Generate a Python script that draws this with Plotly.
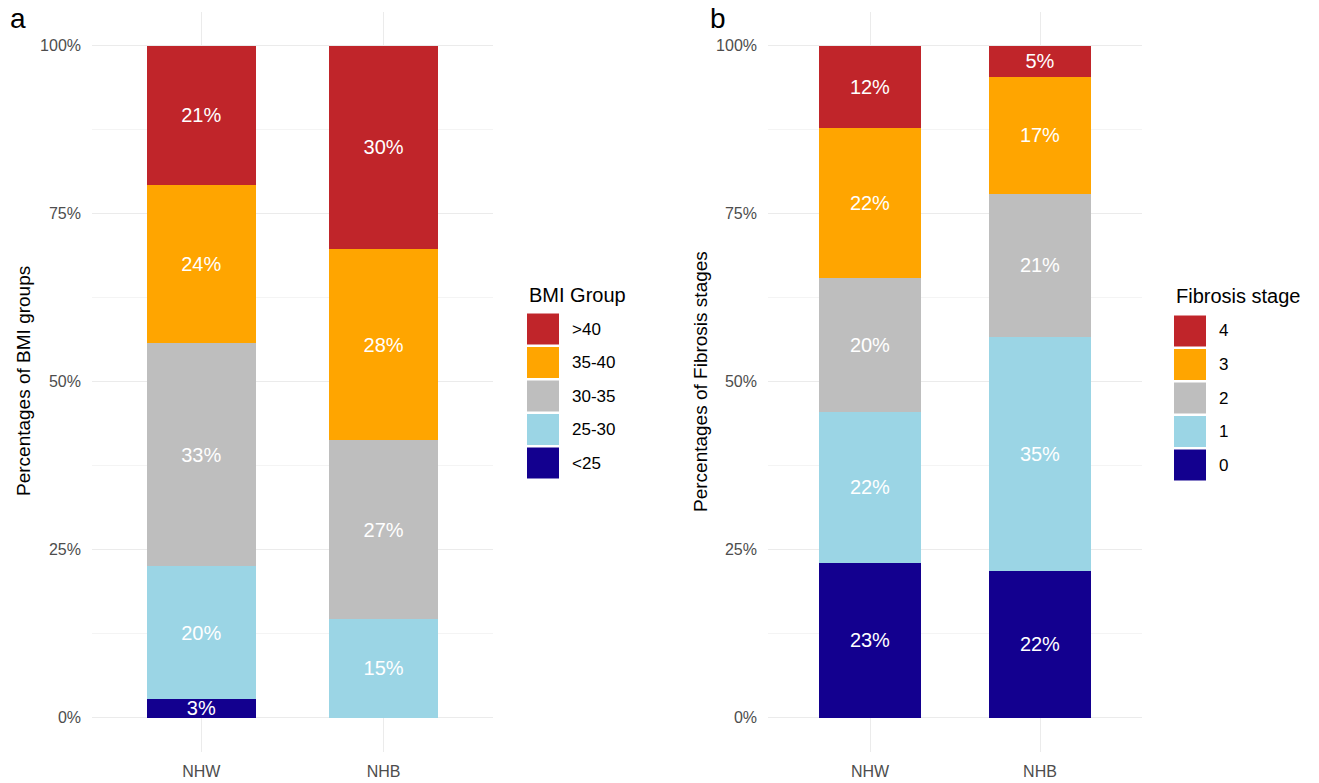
import plotly.graph_objects as go

# ---------------- data ----------------
groups = ["NHW", "NHB"]

bmi_levels = ["<25", "25-30", "30-35", "35-40", ">40"]
bmi_nhw = [2.8, 19.8, 33.1, 23.6, 20.7]
bmi_nhb = [0.0, 14.7, 26.6, 28.4, 30.3]

fib_levels = ["0", "1", "2", "3", "4"]
fib_nhw = [23.1, 22.4, 20.0, 22.3, 12.2]
fib_nhb = [21.9, 34.8, 21.3, 17.4, 4.6]

level_colors = ["#13008F", "#9BD5E5", "#BEBEBE", "#FFA500", "#C0252A"]

y_ticks = [0, 25, 50, 75, 100]
y_minor = [12.5, 37.5, 62.5, 87.5]

# ---------------- layout helpers ----------------
W, H = 1319, 783
FONT = "Liberation Sans, Arial, sans-serif"


def fx(px):
    return px / W


def fy(py):
    return 1 - py / H


def lab(v):
    return f"{round(v)}%" if v > 0 else ""


fig = go.Figure()

for i, lvl in enumerate(bmi_levels):
    vals = [bmi_nhw[i], bmi_nhb[i]]
    fig.add_trace(go.Bar(
        x=groups, y=vals, name=lvl, xaxis="x", yaxis="y",
        marker=dict(color=level_colors[i], line=dict(width=0)),
        width=0.6, text=[lab(v) for v in vals], textposition="inside",
        insidetextanchor="middle", textangle=0,
        textfont=dict(color="white", size=20, family=FONT),
        showlegend=False, hoverinfo="skip", cliponaxis=False,
    ))

for i, lvl in enumerate(fib_levels):
    vals = [fib_nhw[i], fib_nhb[i]]
    fig.add_trace(go.Bar(
        x=groups, y=vals, name=lvl, xaxis="x2", yaxis="y2",
        marker=dict(color=level_colors[i], line=dict(width=0)),
        width=0.6, text=[lab(v) for v in vals], textposition="inside",
        insidetextanchor="middle", textangle=0,
        textfont=dict(color="white", size=20, family=FONT),
        showlegend=False, hoverinfo="skip", cliponaxis=False,
    ))

ydom = [fy(751.5), fy(12)]

common_x = dict(
    type="category", range=[-0.6, 1.6], showgrid=True, gridcolor="#ebebeb",
    gridwidth=1, zeroline=False, showline=False, ticks="",
    ticklabelstandoff=8,
    tickfont=dict(size=16, color="#4d4d4d", family=FONT), fixedrange=True,
)
common_y = dict(
    range=[-5, 105], tickvals=y_ticks, ticktext=[f"{t}%" for t in y_ticks],
    showgrid=True, gridcolor="#ebebeb", gridwidth=1, zeroline=False,
    showline=False, ticks="", ticklabelstandoff=10,
    tickfont=dict(size=16, color="#4d4d4d", family=FONT),
    minor=dict(tickvals=y_minor, showgrid=True, gridcolor="#f4f4f4", gridwidth=1),
    domain=ydom, fixedrange=True,
)

fig.update_layout(
    width=W, height=H, margin=dict(l=0, r=0, t=0, b=0),
    paper_bgcolor="white", plot_bgcolor="white", barmode="stack",
    uniformtext=dict(minsize=20, mode="show"),
    font=dict(family=FONT),
    xaxis=dict(domain=[fx(92), fx(493)], anchor="y", **common_x),
    yaxis=dict(anchor="x", **common_y),
    xaxis2=dict(domain=[fx(768), fx(1142)], anchor="y2", **common_x),
    yaxis2=dict(anchor="x2", **common_y),
)

annotations = []
shapes = []

# panel letters
annotations.append(dict(x=fx(8), y=fy(1), xref="paper", yref="paper", text="a",
                        showarrow=False, xanchor="left", yanchor="top",
                        font=dict(size=28, color="black", family=FONT)))
annotations.append(dict(x=fx(708), y=fy(1), xref="paper", yref="paper", text="b",
                        showarrow=False, xanchor="left", yanchor="top",
                        font=dict(size=28, color="black", family=FONT)))

# axis titles
annotations.append(dict(x=fx(23), y=fy(381), xref="paper", yref="paper",
                        text="Percentages of BMI groups", textangle=-90,
                        showarrow=False, xanchor="center", yanchor="middle",
                        font=dict(size=19, color="black", family=FONT)))
annotations.append(dict(x=fx(700), y=fy(382), xref="paper", yref="paper",
                        text="Percentages of Fibrosis stages", textangle=-90,
                        showarrow=False, xanchor="center", yanchor="middle",
                        font=dict(size=19, color="black", family=FONT)))


def legend(title, levels, x_sw, y_title, y_first, pitch):
    annotations.append(dict(x=fx(x_sw), y=fy(y_title), xref="paper", yref="paper",
                            text=title, showarrow=False, xanchor="left",
                            yanchor="middle",
                            font=dict(size=20, color="black", family=FONT)))
    for k, idx in enumerate(range(len(levels) - 1, -1, -1)):
        cy = y_first + k * pitch
        shapes.append(dict(type="rect", xref="paper", yref="paper",
                           x0=fx(x_sw), x1=fx(x_sw + 32),
                           y0=fy(cy - 15.5), y1=fy(cy + 15.5),
                           fillcolor=level_colors[idx], line=dict(width=0)))
        annotations.append(dict(x=fx(x_sw + 43), y=fy(cy), xref="paper",
                                yref="paper", text=levels[idx], showarrow=False,
                                xanchor="left", yanchor="middle",
                                font=dict(size=17, color="black", family=FONT)))


legend("BMI Group", bmi_levels, 527, 295, 329, 33.5)
legend("Fibrosis stage", fib_levels, 1174, 296, 331, 33.5)

fig.update_layout(annotations=annotations, shapes=shapes)

fig.write_html("out.html",
               config={"displayModeBar": False},
               post_script="document.body.style.margin='0';"
                           "document.body.style.overflow='hidden';")
